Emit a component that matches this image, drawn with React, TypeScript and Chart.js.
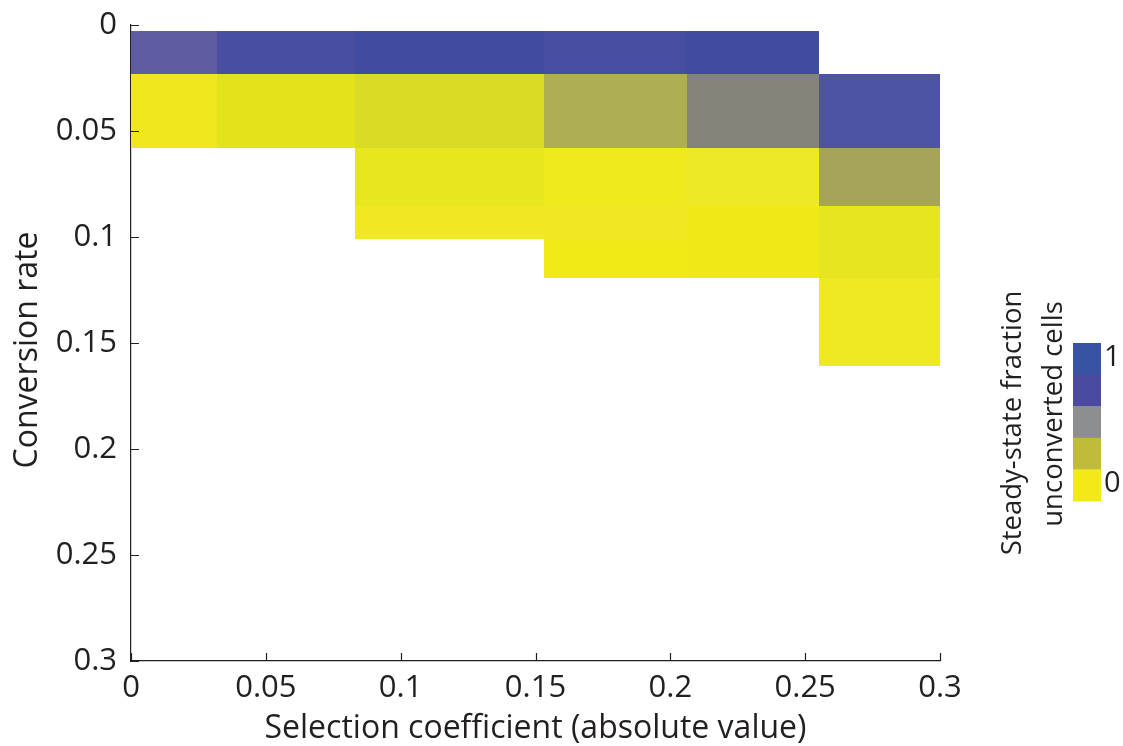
import { useEffect, useRef } from "react";
import { Chart, registerables } from "chart.js";

Chart.register(...registerables);

// Bin edges of the grid (x: selection coefficient, y: conversion rate)
const selectionEdges = [0, 0.032, 0.083, 0.153, 0.206, 0.255, 0.3];
const conversionEdges = [0.003, 0.023, 0.058, 0.0855, 0.101, 0.1195, 0.161];

// Tick values for both axes
const xTickValues = [0, 0.05, 0.1, 0.15, 0.2, 0.25, 0.3];
const yTickValues = [0, 0.05, 0.1, 0.15, 0.2, 0.25, 0.3];

// Each cell: its column and the span of conversion-rate edges it covers
const cellColumn = [0, 0, 1, 1, 2, 2, 2, 2, 3, 3, 3, 3, 3, 4, 4, 4, 4, 5, 5, 5, 5];
const cellRowFrom = [0, 1, 0, 1, 0, 1, 2, 3, 0, 1, 2, 3, 4, 0, 1, 2, 3, 1, 2, 3, 5];
const cellRowTo = [1, 2, 1, 2, 1, 2, 3, 4, 1, 2, 3, 4, 5, 1, 2, 3, 5, 2, 3, 5, 6];

// Colorbar end labels (fraction of unconverted cells)
const colorbarLabels = ["1", "0"];

// Styles
const cellColors = [
  "#5f5ca3", "#f0e61e",
  "#4a4ea0", "#e3e31c",
  "#3f4ca0", "#dadb25", "#e8e61e", "#f0e821",
  "#474d9f", "#aeae52", "#efea1e", "#efe823", "#f1ea16",
  "#3f4ca0", "#84837a", "#ede926", "#f1e917",
  "#4e52a2", "#a6a35a", "#e7e520", "#efe921",
];
const colorbarColors = ["#3953a4", "#4a4a9e", "#8d8e90", "#bfbb3c", "#f3e918"];
const INK = "#231f20";
const FONT = "'Open Sans', sans-serif";

const fmt = (v: number) => String(Number(v.toFixed(2)));

// Fills each grid cell using the chart's own x/y scales
const cellPlugin = {
  id: "gridCells",
  beforeDatasetsDraw(chart: any) {
    const { ctx, chartArea, scales } = chart;
    const xs = scales.x;
    const ys = scales.y;
    ctx.save();
    ctx.beginPath();
    ctx.rect(chartArea.left, chartArea.top, chartArea.right - chartArea.left, chartArea.bottom - chartArea.top);
    ctx.clip();
    for (let i = 0; i < cellColumn.length; i++) {
      const c = cellColumn[i];
      const x0 = Math.round(xs.getPixelForValue(selectionEdges[c]));
      const x1 = Math.round(xs.getPixelForValue(selectionEdges[c + 1]));
      const y0 = Math.round(ys.getPixelForValue(conversionEdges[cellRowFrom[i]]));
      const y1 = Math.round(ys.getPixelForValue(conversionEdges[cellRowTo[i]]));
      ctx.fillStyle = cellColors[i];
      ctx.fillRect(x0, Math.min(y0, y1), x1 - x0, Math.abs(y1 - y0));
    }
    ctx.restore();
  },
};

// Inward ticks, y-axis title and the colorbar with its caption
const decorPlugin = {
  id: "decor",
  afterDraw(chart: any) {
    const { ctx, chartArea, scales } = chart;
    const xs = scales.x;
    const ys = scales.y;
    ctx.save();
    ctx.strokeStyle = INK;
    ctx.lineWidth = 1.2;
    ctx.beginPath();
    for (const v of xTickValues) {
      const px = Math.round(xs.getPixelForValue(v)) + 0.5;
      ctx.moveTo(px, chartArea.bottom);
      ctx.lineTo(px, chartArea.bottom - 8);
    }
    for (const v of yTickValues) {
      const py = Math.round(ys.getPixelForValue(v)) + 0.5;
      ctx.moveTo(chartArea.left, py);
      ctx.lineTo(chartArea.left + 8, py);
    }
    ctx.stroke();

    ctx.fillStyle = INK;
    ctx.font = `32px ${FONT}`;
    ctx.textAlign = "center";
    ctx.textBaseline = "alphabetic";
    ctx.save();
    ctx.translate(37, 350);
    ctx.rotate(-Math.PI / 2);
    ctx.fillText("Conversion rate", 0, 0);
    ctx.restore();

    const cbLeft = 1073;
    const cbTop = 343;
    const cbW = 28;
    const segH = 31.6;
    colorbarColors.forEach((col, i) => {
      ctx.fillStyle = col;
      ctx.fillRect(cbLeft, cbTop + i * segH, cbW, segH + 0.5);
    });
    ctx.fillStyle = INK;
    ctx.font = `29px ${FONT}`;
    ctx.textAlign = "left";
    ctx.textBaseline = "middle";
    ctx.fillText(colorbarLabels[0], 1104, cbTop + segH / 2 - 1);
    ctx.fillText(colorbarLabels[1], 1104, cbTop + 4.5 * segH - 1);

    ctx.font = `27.5px ${FONT}`;
    ctx.textAlign = "center";
    ctx.textBaseline = "alphabetic";
    ctx.save();
    ctx.translate(1021, 423);
    ctx.rotate(-Math.PI / 2);
    ctx.fillText("Steady-state fraction", 0, 0);
    ctx.restore();
    ctx.save();
    ctx.translate(1062, 414);
    ctx.rotate(-Math.PI / 2);
    ctx.fillText("unconverted cells", 0, 0);
    ctx.restore();
    ctx.restore();
  },
};

export default function App() {
  const canvasRef = useRef<HTMLCanvasElement | null>(null);

  useEffect(() => {
    if (!canvasRef.current) return;
    const chart = new Chart(canvasRef.current, {
      type: "scatter",
      data: { datasets: [{ data: [], pointRadius: 0 }] },
      options: {
        animation: false,
        responsive: true,
        maintainAspectRatio: false,
        layout: { padding: { top: 25, right: 183, left: 0, bottom: 0 } },
        plugins: { legend: { display: false }, tooltip: { enabled: false } },
        scales: {
          x: {
            type: "linear",
            min: 0,
            max: 0.3,
            afterBuildTicks: (scale: any) => {
              scale.ticks = xTickValues.map((v) => ({ value: v }));
            },
            afterFit: (scale: any) => {
              scale.height = 85;
              scale.paddingLeft = 0;
              scale.paddingRight = 0;
            },
            grid: { display: false, drawTicks: false },
            border: { display: true, color: INK, width: 1.2 },
            ticks: {
              color: INK,
              font: { family: FONT, size: 31 },
              padding: 9,
              maxRotation: 0,
              autoSkip: false,
              callback: (v: any) => fmt(Number(v)),
            },
            title: {
              display: true,
              text: "Selection coefficient (absolute value)",
              color: INK,
              font: { family: FONT, size: 32, lineHeight: 1.1 },
              padding: { top: 0, bottom: 0 },
            },
          },
          y: {
            type: "linear",
            min: 0,
            max: 0.3,
            reverse: true,
            afterBuildTicks: (scale: any) => {
              scale.ticks = yTickValues.map((v) => ({ value: v }));
            },
            afterFit: (scale: any) => {
              scale.width = 131;
              scale.paddingTop = 0;
              scale.paddingBottom = 0;
            },
            grid: { display: false, drawTicks: false },
            border: { display: true, color: INK, width: 1.2 },
            ticks: {
              color: INK,
              font: { family: FONT, size: 31 },
              padding: 14,
              autoSkip: false,
              callback: (v: any) => fmt(Number(v)),
            },
          },
        },
      },
      plugins: [cellPlugin, decorPlugin],
    });
    return () => chart.destroy();
  }, []);

  return (
    <div style={{ position: "absolute", left: 0, top: 0, width: 1123, height: 746, background: "#fff" }}>
      <canvas ref={canvasRef} />
    </div>
  );
}
